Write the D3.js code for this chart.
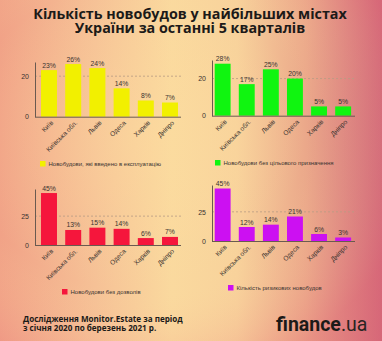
<!DOCTYPE html>
<html><head><meta charset="utf-8">
<script src="https://cdn.jsdelivr.net/npm/d3@7"></script>
<style>html,body{margin:0;padding:0;overflow:hidden;}svg{display:block;}</style>
</head><body>
<svg id="c" width="382" height="341"></svg>
<script>
const cities = ["Київ","Київська обл.","Львів","Одеса","Харків","Дніпро"];
const commissioned = [23,26,24,14,8,7];
const noPurpose = [28,17,25,20,5,5];
const noPermit = [45,13,15,14,6,7];
const risky = [45,12,14,21,6,3];
const titleLines = ["Кількість новобудов у найбільших містах","України за останні 5 кварталів"];
const footerLines = ["Дослідження Monitor.Estate за період","з січня 2020 по березень 2021 р."];

const svg = d3.select("#c");
const defs = svg.append("defs");
const lg = defs.append("linearGradient").attr("id","bgh").attr("x1","0").attr("x2","1").attr("y1","0").attr("y2","0");
[[0,"#f1a287"],[0.25,"#f6c196"],[0.45,"#fad99e"],[0.62,"#f8d29b"],[0.8,"#eba88a"],[1,"#cd6277"]].forEach(s=>lg.append("stop").attr("offset",s[0]).attr("stop-color",s[1]));
const lv = defs.append("radialGradient").attr("id","bgv").attr("cx","0.35").attr("cy","0.4").attr("r","0.75");
lv.append("stop").attr("offset",0).attr("stop-color","#ffe0a0").attr("stop-opacity",0.35);
lv.append("stop").attr("offset",0.6).attr("stop-color","#ffe0a0").attr("stop-opacity",0);
lv.append("stop").attr("offset",1).attr("stop-color","#e8707a").attr("stop-opacity",0.35);
svg.append("rect").attr("width",382).attr("height",341).attr("fill","url(#bgh)");
svg.append("rect").attr("width",382).attr("height",341).attr("fill","url(#bgv)");

const sans = "'Liberation Sans', Arial, sans-serif";
const narrow = "'Liberation Sans Narrow', 'Arial Narrow', 'Liberation Sans', sans-serif";

const title = svg.append("text").attr("text-anchor","middle")
  .attr("font-family","Open Sans").attr("font-weight",700).attr("font-size",14.3).attr("fill","#1c1a18");
title.selectAll("tspan").data(titleLines).join("tspan")
  .attr("x",190).attr("y",(d,i)=>19+i*14.3).text(d=>d);

const panels = [
  {vals:commissioned,color:"#f2f000",x0:36.9,x1:182.1,ax:35,base:116.7,top:62,max:27,tick:20,axEnd:181,legend:"Новобудови, які введено в експлуатацію",lx:40,ly:161},
  {vals:noPurpose,color:"#10f510",x0:210.6,x1:355.2,ax:212,base:115.7,top:60,max:30,tick:20,axEnd:355,legend:"Новобудови без цільового призначення",lx:215,ly:160},
  {vals:noPermit,color:"#f5163c",x0:36.9,x1:182.1,ax:35,base:245,top:189,max:48.5,tick:25,axEnd:181,legend:"Новобудови без дозволів",lx:62,ly:289},
  {vals:risky,color:"#cc10f2",x0:210.6,x1:355.2,ax:212,base:241,top:185,max:48,tick:25,axEnd:355,legend:"Кількість ризикових новобудов",lx:228,ly:285}
];

panels.forEach(p=>{
  const g = svg.append("g");
  const x = d3.scaleBand().domain(cities).range([p.x0,p.x1]).paddingInner(0.34).paddingOuter(0.17);
  const y = d3.scaleLinear().domain([0,p.max]).range([p.base,p.top]);
  g.append("line").attr("x1",p.ax).attr("x2",p.axEnd).attr("y1",y(p.tick)).attr("y2",y(p.tick))
    .attr("stroke","#b89c84").attr("stroke-dasharray","2,2").attr("stroke-width",0.8);
  const yAxis = d3.axisLeft(y).tickValues([0,p.tick]).tickSize(0).tickPadding(6);
  const ya = g.append("g").attr("transform",`translate(${p.ax},0)`).call(yAxis);
  ya.select(".domain").attr("stroke","#6a5a50").attr("stroke-width",1);
  ya.selectAll("text").attr("font-family",sans).attr("font-size",7).attr("fill","#3a3330");
  g.selectAll("rect.bar").data(p.vals).join("rect").attr("class","bar")
    .attr("x",(d,i)=>x(cities[i])).attr("width",x.bandwidth())
    .attr("y",d=>y(d)).attr("height",d=>p.base-y(d)).attr("fill",p.color);
  g.append("line").attr("x1",p.ax).attr("x2",p.axEnd).attr("y1",p.base+0.5).attr("y2",p.base+0.5)
    .attr("stroke","#6a5a50").attr("stroke-width",1);
  g.selectAll("text.val").data(p.vals).join("text").attr("class","val")
    .attr("x",(d,i)=>x(cities[i])+x.bandwidth()/2).attr("y",d=>y(d)-2.5)
    .attr("text-anchor","middle").attr("font-family",sans).attr("font-size",6.8)
    .attr("fill","#3a3330").text(d=>d+"%");
  g.selectAll("text.cat").data(cities).join("text").attr("class","cat")
    .attr("transform",d=>`translate(${x(d)+x.bandwidth()/2+3},${p.base+5}) rotate(-45)`)
    .attr("text-anchor","end").attr("dy","0.35em").attr("font-family",sans).attr("font-size",6.6)
    .attr("fill","#3a3330").text(d=>d);
  g.append("rect").attr("x",p.lx).attr("y",p.ly).attr("width",5.5).attr("height",5.5).attr("fill",p.color);
  g.append("text").attr("x",p.lx+8.5).attr("y",p.ly+5).attr("font-family",narrow).attr("font-size",6)
    .attr("fill","#3a3330").text(p.legend);
});

const footer = svg.append("text").attr("font-family","Open Sans").attr("font-weight",700)
  .attr("font-size",8.1).attr("fill","#1c1a18");
footer.selectAll("tspan").data(footerLines).join("tspan")
  .attr("x",23).attr("y",(d,i)=>322+i*9.2).text(d=>d);

const logo = svg.append("text").attr("x",276).attr("y",331).attr("font-family","Roboto").attr("font-size",19.5).attr("fill","#1c1a18");
logo.append("tspan").attr("font-weight",700).text("finance");
logo.append("tspan").attr("font-weight",400).attr("fill","#2a2422").text(".ua");
</script>
</body></html>
